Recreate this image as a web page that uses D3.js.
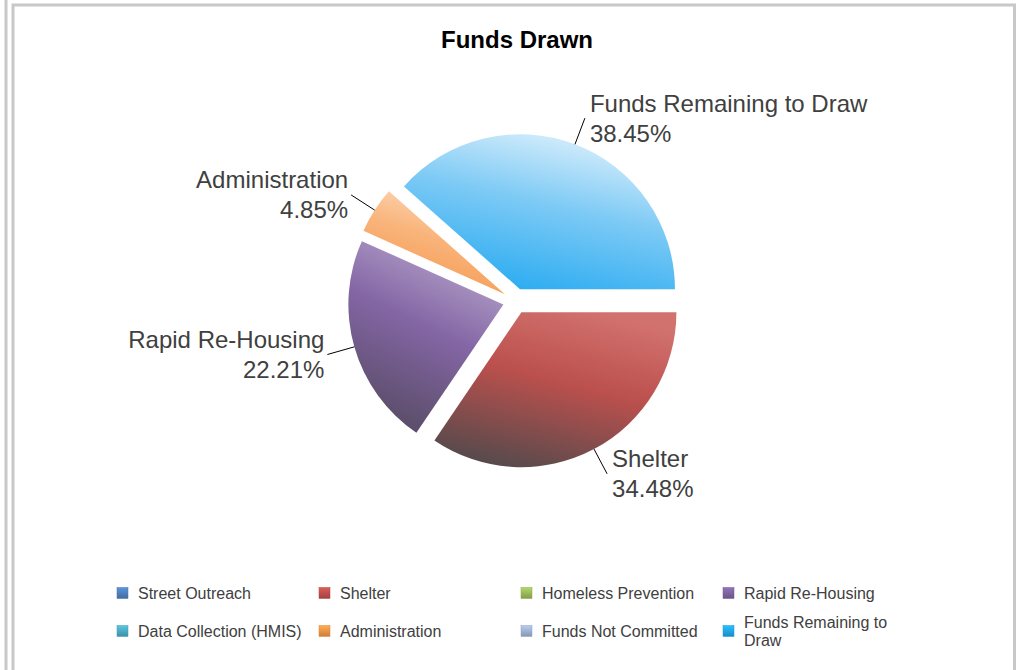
<!DOCTYPE html>
<html>
<head>
<meta charset="utf-8">
<script src="https://cdn.jsdelivr.net/npm/d3@7"></script>
<style>
  html, body { margin: 0; padding: 0; background: #fff; }
  svg { display: block; font-family: "Liberation Sans", Arial, sans-serif; }
</style>
</head>
<body>
<div id="chart"></div>
<script>
// series, in the order they are drawn (clockwise from 3 o'clock)
var categories = ['Street Outreach', 'Shelter', 'Homeless Prevention', 'Rapid Re-Housing',
                  'Data Collection (HMIS)', 'Administration', 'Funds Not Committed', 'Funds Remaining to Draw'];
var values = [0, 34.48, 0, 22.21, 0, 4.85, 0, 38.45];

var baseColors  = ['#4f81bd', '#c0504d', '#9bbb59', '#8064a2', '#4bacc6', '#f79646', '#9fb3d3', '#21a7ef'];
var shadeTop    = ['#7fa3d0', '#d2726f', '#bcd38e', '#b9a9cd', '#86c9da', '#fddcbf', '#c6d3e7', '#dcf0fc'];
var shadeMid    = ['#4f81bd', '#bb504d', '#9bbb59', '#8466a5', '#4bacc6', '#f9b47b', '#9fb3d3', '#7dcaf5'];
var shadeBottom = ['#34567f', '#584a4c', '#67803a', '#574b64', '#2f7a8e', '#f5964a', '#6c80a0', '#27aaf1'];

var W = 1029, H = 670;
var cx = 515.5, cy = 301, radius = 155, explode = 12.6, leaderLen = 28;

var svg = d3.select('#chart').append('svg')
    .attr('width', W)
    .attr('height', H);

// panel borders
svg.append('line')
    .attr('x1', 6).attr('x2', 6).attr('y1', 0).attr('y2', H)
    .attr('stroke', '#c8c8c8').attr('stroke-width', 3);
svg.append('path')
    .attr('d', 'M13,' + H + 'V5H1014.5V' + H)
    .attr('fill', 'none')
    .attr('stroke', '#c8c8c8').attr('stroke-width', 3);

svg.append('text')
    .attr('x', 517).attr('y', 48)
    .attr('text-anchor', 'middle')
    .style('font-size', '24px')
    .style('font-weight', 'bold')
    .style('fill', '#000')
    .text('Funds Drawn');

var defs = svg.append('defs');
categories.forEach(function(c, i) {
    var g = defs.append('linearGradient')
        .attr('id', 'slice' + i)
        .attr('x1', 0.7).attr('y1', 0).attr('x2', 0.3).attr('y2', 1);
    g.append('stop').attr('offset', 0).attr('stop-color', shadeTop[i]);
    g.append('stop').attr('offset', 0.45).attr('stop-color', shadeMid[i]);
    g.append('stop').attr('offset', 1).attr('stop-color', shadeBottom[i]);

    var lg = defs.append('linearGradient')
        .attr('id', 'key' + i)
        .attr('x1', 0).attr('y1', 0).attr('x2', 0).attr('y2', 1);
    lg.append('stop').attr('offset', 0).attr('stop-color', d3.color(baseColors[i]).brighter(0.4));
    lg.append('stop').attr('offset', 1).attr('stop-color', d3.color(baseColors[i]).darker(0.5));
});

var pie = d3.pie()
    .sort(null)
    .value(function(d) { return d.value; })
    .startAngle(Math.PI / 2)
    .endAngle(Math.PI / 2 + 2 * Math.PI);

var data = categories.map(function(c, i) {
    return { name: c, value: values[i], index: i };
});

var arcs = pie(data).filter(function(d) { return d.data.value > 0; });

var arc = d3.arc().innerRadius(0).outerRadius(radius);

function mid(d) { return (d.startAngle + d.endAngle) / 2; }
function dir(d) { var a = mid(d); return [Math.sin(a), -Math.cos(a)]; }

var pieG = svg.append('g')
    .attr('transform', 'translate(' + cx + ',' + cy + ')');

var slices = pieG.selectAll('g.slice')
    .data(arcs).enter().append('g')
    .attr('class', 'slice')
    .attr('transform', function(d) {
        var v = dir(d);
        return 'translate(' + (v[0] * explode) + ',' + (v[1] * explode) + ')';
    });

slices.append('path')
    .attr('d', arc)
    .attr('fill', function(d) { return 'url(#slice' + d.data.index + ')'; });

// leader lines and two-line labels
slices.each(function(d) {
    var g = d3.select(this);
    var v = dir(d);
    var x0 = v[0] * radius, y0 = v[1] * radius;
    var x1 = v[0] * (radius + leaderLen), y1 = v[1] * (radius + leaderLen);
    g.append('line')
        .attr('x1', x0).attr('y1', y0).attr('x2', x1).attr('y2', y1)
        .attr('stroke', '#000').attr('stroke-width', 1);

    var right = v[0] > 0;
    var t = g.append('text')
        .attr('text-anchor', right ? 'start' : 'end')
        .style('font-size', '24px')
        .style('fill', '#404040');
    var tx = right ? x1 + 5 : x1 - 3;
    t.append('tspan').attr('x', tx).attr('y', y1 - 15 + 8.5).text(d.data.name);
    t.append('tspan').attr('x', tx).attr('y', y1 + 15 + 8.5).text(d.data.value.toFixed(2) + '%');
});

// legend
var legX = d3.scalePoint().domain([0, 1, 2, 3]).range([117, 723]);
var legY = d3.scalePoint().domain([0, 1]).range([593, 631]);

var legend = svg.append('g');
var items = legend.selectAll('g.item')
    .data(data).enter().append('g')
    .attr('class', 'item')
    .attr('transform', function(d, i) {
        return 'translate(' + legX(i % 4) + ',' + legY(Math.floor(i / 4)) + ')';
    });

items.append('rect')
    .attr('x', 0).attr('y', -5.5)
    .attr('width', 11).attr('height', 11)
    .attr('fill', function(d) { return 'url(#key' + d.index + ')'; })
    .attr('stroke', function(d) { return d3.color(baseColors[d.index]).darker(0.3); })
    .attr('stroke-width', 0.5);

items.each(function(d) {
    var g = d3.select(this);
    var t = g.append('text')
        .attr('x', 21)
        .style('font-size', '16px')
        .style('fill', '#404040');
    var words = d.name.split(' '), lines = [], cur = '';
    var probe = g.append('text').style('font-size', '16px');
    words.forEach(function(w) {
        var test = cur ? cur + ' ' + w : w;
        probe.text(test);
        if (cur && probe.node().getComputedTextLength() > 175) {
            lines.push(cur);
            cur = w;
        } else {
            cur = test;
        }
    });
    lines.push(cur);
    probe.remove();
    var lh = 18;
    lines.forEach(function(l, k) {
        t.append('tspan')
            .attr('x', 21)
            .attr('y', (k - (lines.length - 1) / 2) * lh + 5.5)
            .text(l);
    });
});
</script>
</body>
</html>
